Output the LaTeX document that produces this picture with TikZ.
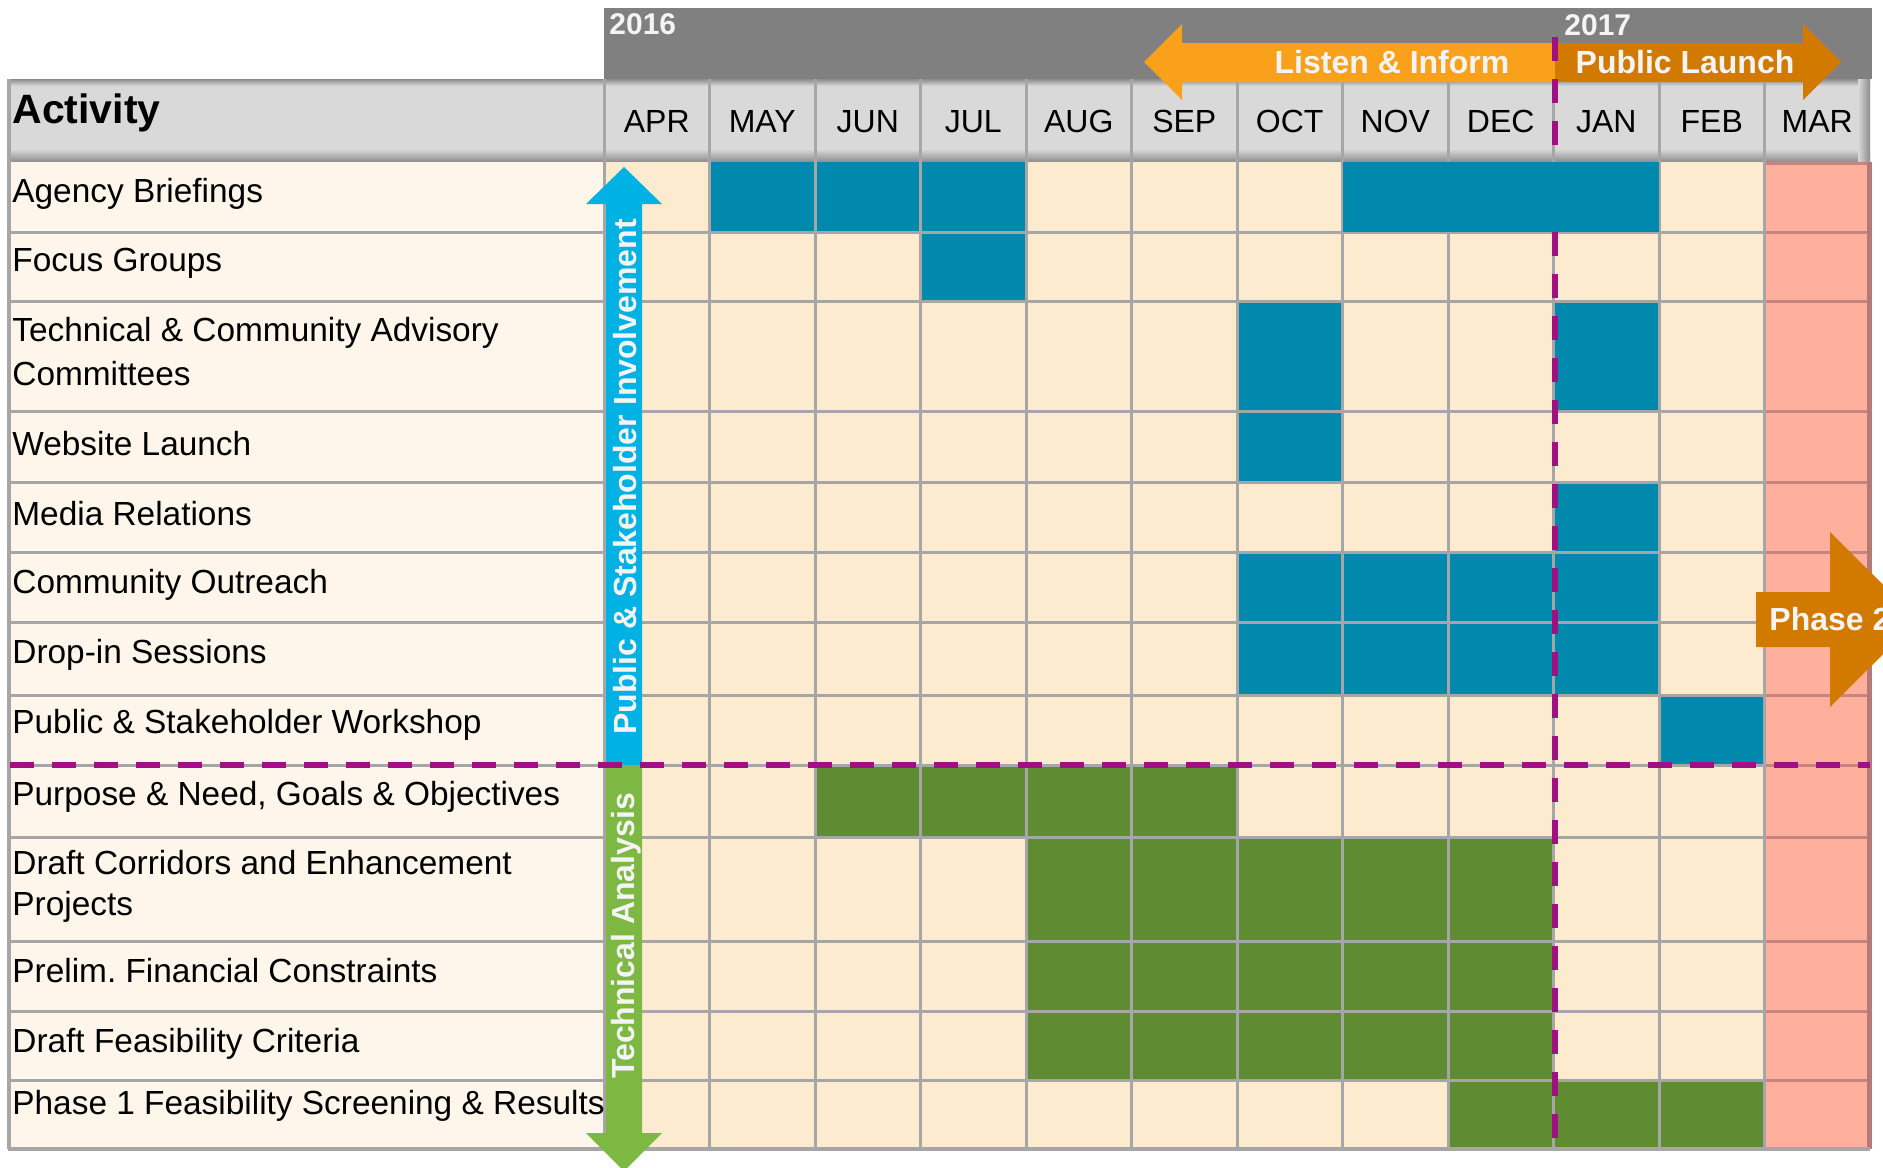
\documentclass[tikz,border=0pt]{standalone}
\usepackage{fontspec}
\setmainfont{Liberation Sans}
\frenchspacing
\definecolor{cellbg}{HTML}{FDEBD0}
\definecolor{labelbg}{HTML}{FEF6EA}
\definecolor{pinkbg}{HTML}{FFB09C}
\definecolor{pinkline}{HTML}{C8847E}
\definecolor{pinkedge}{HTML}{B47A78}
\definecolor{gridc}{HTML}{A6A6A6}
\definecolor{blueblk}{HTML}{0088AD}
\definecolor{greenblk}{HTML}{5F8B32}
\definecolor{cyanarr}{HTML}{00B2E3}
\definecolor{greenarr}{HTML}{7DB842}
\definecolor{orangeL}{HTML}{F9A11B}
\definecolor{orangeD}{HTML}{D27A00}
\definecolor{purp}{HTML}{A01080}
\definecolor{hdrdark}{HTML}{808080}
\definecolor{hdrlight}{HTML}{D9D9D9}
\definecolor{hdrshadow}{HTML}{8C8C8C}
\definecolor{txtwhite}{HTML}{F4F4F4}
\newcommand\blk[5]{\fill[#1] ({604+105.5*#2},#4) rectangle ({604+105.5*(#3+1)},#5);}
\begin{document}
\begin{tikzpicture}[x=0.5pt,y=-0.5pt,
  lbl/.style={anchor=base west,inner sep=0pt,font=\fontsize{16.7pt}{20pt}\selectfont},
  month/.style={anchor=base,inner sep=0pt,font=\fontsize{16pt}{19pt}\selectfont},
  boldw/.style={inner sep=0pt,text=txtwhite,font=\fontsize{16pt}{19pt}\selectfont\bfseries},
  yearlbl/.style={anchor=west,inner sep=0pt,text=txtwhite,font=\fontsize{15pt}{18pt}\selectfont\bfseries},
  gridline/.style={draw=gridc,line width=1.5pt},
  phaseline/.style={draw=purp,line width=2.7pt,dash pattern=on 12pt off 9pt}]
\useasboundingbox (0,0) rectangle (1883,1167);
\clip (0,0) rectangle (1883,1167);
\fill[white] (0,0) rectangle (1883,1167);
% top year band
\fill[hdrdark] (604,8) rectangle (1872,79);
% header row
\fill[hdrlight] (9,79) rectangle (1870,162);
\shade[top color=hdrlight,bottom color=hdrshadow] (9,149) rectangle (1870,162);
\shade[top color=hdrshadow,bottom color=hdrlight] (9,79) rectangle (1870,86);
\shade[left color=hdrlight,right color=hdrshadow] (1858,79) rectangle (1870,162);
% body backgrounds
\fill[labelbg] (9,162) rectangle (604,1148);
\fill[cellbg] (604,162) rectangle (1764,1148);
\fill[pinkbg] (1764,162) rectangle (1868,1148);
% blue blocks
\blk{blueblk}{1}{3}{162}{232}
\blk{blueblk}{3}{3}{232}{301}
\blk{blueblk}{6}{6}{301}{411}
\blk{blueblk}{9}{9}{301}{411}
\blk{blueblk}{6}{6}{411}{482}
\blk{blueblk}{9}{9}{482}{552}
\blk{blueblk}{6}{9}{552}{622}
\blk{blueblk}{6}{9}{622}{695}
\blk{blueblk}{10}{10}{695}{765}
% green blocks
\blk{greenblk}{2}{5}{765}{837}
\blk{greenblk}{4}{8}{837}{941}
\blk{greenblk}{4}{8}{941}{1011}
\blk{greenblk}{4}{8}{1011}{1080}
\blk{greenblk}{8}{10}{1080}{1148}
% grid
\foreach \yy in {232,301,411,482,552,622,695,765,837,941,1011,1080}{
  \draw[gridline] (9,\yy) -- (1764,\yy);
  \draw[draw=pinkline,line width=1.5pt] (1764,\yy) -- (1868,\yy);
}
\draw[draw=pinkline,line width=1.5pt] (1764,163) -- (1868,163);
\foreach \i in {0,...,11}{
  \draw[gridline] ({604+105.5*\i},79) -- ({604+105.5*\i},1148);
}
\draw[draw=pinkedge,line width=2.5pt] (1869,162) -- (1869,1149);
\draw[draw=gridc,line width=2pt] (9,79) -- (9,1149);
\draw[draw=gridc,line width=2pt] (8,1149) -- (1870,1149);
% Agency briefings Nov-Jan (on top)
\blk{blueblk}{7}{9}{162}{232}
% header texts
\node[anchor=base west,inner sep=0pt,font=\fontsize{20.5pt}{24pt}\selectfont\bfseries] (act) at (12,123) {Activity};
\foreach \m [count=\k from 0] in {APR,MAY,JUN,JUL,AUG,SEP,OCT,NOV,DEC,JAN,FEB,MAR}{
  \node[month] (m\k) at ({604+105.5*(\k+0.5)},132) {\m};
}
% phase arrows (top)
\fill[orangeL] (1144,62) -- (1182,24) -- (1182,43) -- (1555,43) -- (1555,82) -- (1182,82) -- (1182,100) -- cycle;
\fill[orangeD] (1555,43) -- (1803,43) -- (1803,24) -- (1841,62) -- (1803,100) -- (1803,82) -- (1555,82) -- cycle;
\node[boldw] (listen) at (1392,62) {Listen \& Inform};
\node[boldw] (launch) at (1685,62) {Public Launch};
\node[yearlbl] (y2016) at (609,24) {2016};
\node[yearlbl] (y2017) at (1564,25) {2017};
% vertical arrows
\fill[cyanarr] (624,167) -- (662,204) -- (642,204) -- (642,765) -- (606,765) -- (606,204) -- (586,204) -- cycle;
\fill[greenarr] (606,765) -- (642,765) -- (642,1133) -- (662,1133) -- (624,1171) -- (586,1133) -- (606,1133) -- cycle;
\node[boldw,rotate=90] (psi) at (625,477) {Public \& Stakeholder Involvement};
\node[boldw,rotate=90] (ta) at (626,936) {Technical Analysis};
% phase 2 arrow (runs off the right edge, as in the reference)
\fill[orangeD] (1756,592) -- (1830,592) -- (1830,532) -- (1918,619.5) -- (1830,707) -- (1830,647) -- (1756,647) -- cycle;
\node[boldw,anchor=west] (ph2) at (1769,619) {Phase 2};
% activity labels
\node[lbl] (a1) at (12,202) {Agency Briefings};
\node[lbl] (a2) at (12,271) {Focus Groups};
\node[lbl] (a3) at (12,341) {Technical \& Community Advisory};
\node[lbl] (a3b) at (12,385) {Committees};
\node[lbl] (a4) at (12,455) {Website Launch};
\node[lbl] (a5) at (12,525) {Media Relations};
\node[lbl] (a6) at (12,593) {Community Outreach};
\node[lbl] (a7) at (12,663) {Drop-in Sessions};
\node[lbl] (a8) at (12,733) {Public \& Stakeholder Workshop};
\node[lbl] (a9) at (12,805) {Purpose \& Need, Goals \& Objectives};
\node[lbl] (a10) at (12,874) {Draft Corridors and Enhancement};
\node[lbl] (a10b) at (12,915) {Projects};
\node[lbl] (a11) at (12,982) {Prelim. Financial Constraints};
\node[lbl] (a12) at (12,1052) {Draft Feasibility Criteria};
\node[lbl] (a13) at (12,1114) {Phase 1 Feasibility Screening \& Results};
% phase divider lines
\draw[phaseline] (10,765) -- (1870,765);
\draw[phaseline] (1555,37) -- (1555,162);
\draw[phaseline] (1555,232) -- (1555,1148);
\end{tikzpicture}
\end{document}
